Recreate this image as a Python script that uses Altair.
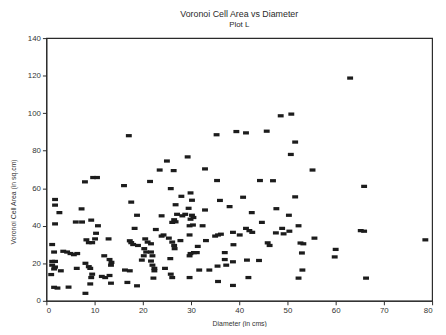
import altair as alt
import pandas as pd

# Diameter (cm) and Voronoi cell area (sq.cm)
diameter = [
    1.8, 1.8, 2.7, 1.8, 7.3, 6.1, 7.4, 9.3, 10.7, 10.3, 10.1, 8.3, 8.8, 9.5, 12.9,
    1.2, 1.6, 3.5, 4.3, 5.0, 5.7, 6.4, 1.2, 1.8, 1.2, 1.8, 1.6, 3.0, 1.0, 6.3,
    8.1, 8.8, 9.1, 9.5, 9.3, 9.1, 8.1, 1.6, 2.3, 4.6, 12.0, 13.1, 13.5, 13.4, 11.5,
    12.2, 13.1, 13.4, 17.6, 18.8, 18.3, 17.3, 17.6, 18.0, 19.0, 16.3, 17.3, 16.8, 18.8,
    20.5, 21.0, 21.7, 22.7, 23.9, 26.1, 26.5, 24.3, 23.9, 20.3, 20.7, 20.2, 19.8, 21.7,
    22.0, 21.7, 22.0, 22.4, 22.4, 22.2, 24.6, 25.4, 26.1, 26.5, 26.6, 25.8, 26.1,
    8.0, 9.7, 10.5, 17.1, 16.1, 21.5, 23.5, 25.0, 26.4, 25.8, 26.8,
    29.5, 30.2, 36.0, 38.0, 32.9, 42.6, 47.7, 50.3, 44.7, 52.3, 27.1, 28.2, 28.8, 26.8,
    30.2, 29.9, 30.5, 29.7, 30.4, 32.4, 29.7, 27.8, 33.1, 35.0, 35.6, 36.2, 38.7, 40.1,
    41.4, 42.1, 42.7, 47.6, 48.9, 49.2, 50.4, 38.8, 45.9, 46.3, 52.7, 53.3, 31.4, 30.6,
    29.9, 31.2, 29.7, 25.7, 37.0, 37.0, 38.7, 37.3, 35.5, 41.6, 44.1, 31.7, 33.8, 29.7,
    35.6, 38.7, 41.9, 52.3, 53.1, 53.0,
    48.6, 50.8, 35.3, 39.4, 41.4, 45.7, 51.6, 50.7, 29.3, 32.9, 35.4, 44.3, 47.0, 29.9,
    28.0, 40.8, 51.6,
    63.0, 55.2, 65.9, 55.6, 65.2, 65.9, 60.0, 59.8, 66.3, 78.6,
]
area = [
    54, 51, 47, 41, 49, 42, 42, 43, 40, 36, 33, 32.5, 31, 31, 33,
    30, 26, 26.4, 26, 25.2, 24.6, 25.2, 21, 21, 19, 18, 17, 16, 14, 17.3,
    20, 18.2, 17.3, 14.2, 12.4, 9, 4, 7.2, 6.8, 7.3, 24, 22, 20.5, 19, 13,
    12.4, 13.5, 9.4, 52.6, 45.6, 38.6, 32, 31, 30, 29.5, 16.4, 16, 9.8, 8,
    33, 31.3, 30.4, 38, 45.3, 41.8, 43.2, 35.1, 34.5, 27.8, 26, 24, 21.7, 26,
    24, 21.2, 19, 17.3, 16, 12.1, 17.3, 33.4, 31.3, 29.5, 27.8, 14.2, 12.4,
    63.4, 65.7, 65.7, 88, 61.4, 63.6, 69.7, 74.5, 69.4, 59.8, 51.2,
    49.3, 53.6, 53.5, 50.2, 48.4, 47, 49.1, 45.6, 41.8, 40, 46.1, 45.3, 46.1, 42.1,
    45.6, 43.5, 44.4, 40, 40.4, 40, 35.1, 32.1, 32.1, 34.5, 35.1, 35.5, 36.5, 35.1,
    38.6, 37.4, 36.5, 36.2, 38.6, 35.7, 37.1, 29.9, 30.9, 29.5, 30.8, 30.4, 29, 25.7,
    25.2, 25.7, 24, 22.5, 25.7, 22, 20.8, 19, 18.5, 21.7, 21.5, 16.4, 16.4, 12.4,
    10.3, 8.2, 12.4, 12.1, 16.4, 25.5,
    98.6, 99.5, 88.5, 90.2, 89.5, 90.4, 84.6, 78, 76.7, 70.3, 64.1, 64.1, 64, 57.5,
    55.7, 55.2, 55.4,
    118.7, 69.7, 61, 33.4, 37.4, 37.1, 27.4, 23.4, 12.1, 32.5,
]
x_ticks = [0, 10, 20, 30, 40, 50, 60, 70, 80]
y_ticks = [0, 20, 40, 60, 80, 100, 120, 140]

df = pd.DataFrame({"Diameter": diameter, "Area": area})

font = "Liberation Sans"
ink = "#2a2a2a"

chart = (
    alt.Chart(df)
    .mark_point(
        shape="M-1,-0.55L1,-0.55L1,0.55L-1,0.55Z",
        filled=True,
        color="#1c1c1c",
        size=36,
        opacity=1,
    )
    .encode(
        x=alt.X(
            "Diameter:Q",
            scale=alt.Scale(domain=[0, 80], nice=False, zero=False),
            axis=alt.Axis(values=x_ticks, title="Diameter (in cms)", titleY=19),
        ),
        y=alt.Y(
            "Area:Q",
            scale=alt.Scale(domain=[0, 140], nice=False),
            axis=alt.Axis(
                values=y_ticks,
                title="Voronoi Cell Area (in sq.cm)",
                titleX=-30,
                titleY=166,
            ),
        ),
    )
    .properties(
        width=392,
        height=267,
        title=alt.TitleParams(
            text="Voronoi Cell Area vs Diameter",
            subtitle="Plot L",
            anchor="middle",
            font=font,
            fontSize=9,
            fontWeight="normal",
            color=ink,
            subtitleFont=font,
            subtitleFontSize=8,
            subtitleColor=ink,
            subtitlePadding=2,
            offset=5,
        ),
        padding={"left": 39, "top": 28, "right": 6, "bottom": 24},
        autosize=alt.AutoSizeParams(type="none"),
    )
    .configure_view(stroke=ink, strokeWidth=1.2)
    .configure_axis(
        grid=False,
        domainColor=ink,
        tickColor=ink,
        tickSize=4,
        labelFont=font,
        labelFontSize=8,
        labelColor="#333333",
        labelPadding=2,
        titleFont=font,
        titleFontSize=7,
        titleFontWeight="normal",
        titleColor="#333333",
    )
)

chart.save("out.html", embed_options={"renderer": "svg", "actions": False})
